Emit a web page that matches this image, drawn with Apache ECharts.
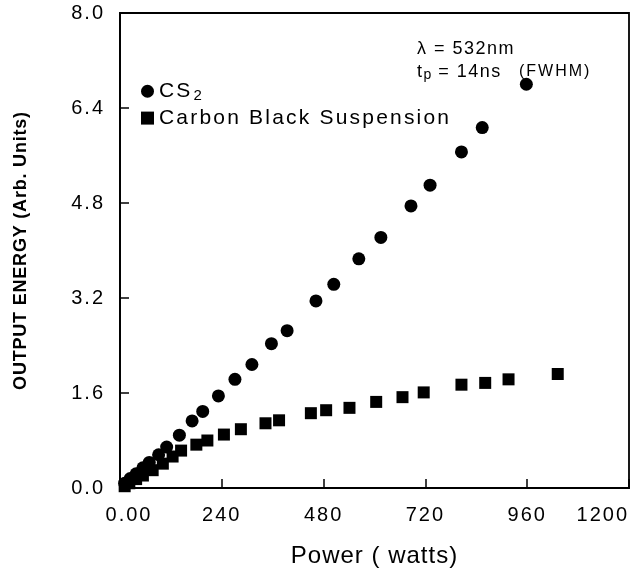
<!DOCTYPE html>
<html>
<head>
<meta charset="utf-8">
<script src="https://cdn.jsdelivr.net/npm/echarts@6/dist/echarts.min.js"></script>
<style>
  html, body { margin: 0; padding: 0; background: #fff; }
  #chart { width: 632px; height: 574px; }
</style>
</head>
<body>
<div id="chart"></div>
<script>
// ---- data ----
const cs2Power  = [958, 854, 805, 731, 686, 615, 563, 504, 462, 394, 357, 311, 271, 232, 195, 170, 140, 110, 91, 69, 54, 38, 24, 11];
const cs2Energy = [6.80, 6.07, 5.66, 5.10, 4.75, 4.22, 3.86, 3.43, 3.15, 2.65, 2.43, 2.08, 1.83, 1.55, 1.29, 1.13, 0.89, 0.69, 0.56, 0.43, 0.34, 0.24, 0.16, 0.08];

const cbPower  = [1032, 916, 861, 805, 716, 666, 604, 541, 486, 450, 375, 343, 285, 245, 206, 180, 144, 124, 101, 77, 54, 38, 22, 11];
const cbEnergy = [1.92, 1.83, 1.77, 1.74, 1.61, 1.53, 1.45, 1.35, 1.31, 1.26, 1.14, 1.09, 0.99, 0.90, 0.80, 0.73, 0.63, 0.53, 0.41, 0.30, 0.21, 0.15, 0.08, 0.03];

const xTickLabels = ['0.00', '240', '480', '720', '960', '1200'];
const yTickLabels = ['0.0', '1.6', '3.2', '4.8', '6.4', '8.0'];

const seriesNames = ['CS2', 'Carbon Black Suspension'];
const xAxisTitle = 'Power ( watts)';
const yAxisTitle = 'OUTPUT ENERGY (Arb. Units)';

// ---- letter spacing of the original typesetting (canvas letterSpacing) ----
(function () {
  const P = CanvasRenderingContext2D.prototype;
  if (!('letterSpacing' in P)) return;
  function spacing(font) {
    const m = /(\d+(?:\.\d+)?)px/.exec(font || '');
    const size = m ? parseFloat(m[1]) : 12;
    if (/bold/.test(font)) return '0.8px';
    if (size >= 23) return '1px';
    if (size >= 21) return '2.2px';
    if (size >= 19) return '2px';
    if (size >= 17) return '1.5px';
    if (size >= 16) return '2px';
    return '0.5px';
  }
  ['fillText', 'strokeText', 'measureText'].forEach(function (fn) {
    const orig = P[fn];
    P[fn] = function () {
      this.letterSpacing = spacing(this.font);
      return orig.apply(this, arguments);
    };
  });
})();

// ---- chart ----
const FONT = 'Liberation Sans';
const INK = '#000';
const chart = echarts.init(document.getElementById('chart'), null, { renderer: 'canvas' });

const zip = (xs, ys) => xs.map((x, i) => [x, ys[i]]);

chart.setOption({
  animation: false,
  backgroundColor: '#fff',
  grid: {
    left: 120, right: 3, top: 13, bottom: 76,
    show: true, borderColor: INK, borderWidth: 1.8, backgroundColor: 'transparent'
  },
  legend: {
    orient: 'vertical',
    left: 136, top: 74,
    itemWidth: 13, itemHeight: 13, itemGap: 3,
    data: [
      { name: seriesNames[0], icon: 'circle' },
      { name: seriesNames[1], icon: 'rect' }
    ],
    formatter: function (name) {
      return name === 'CS2' ? '{a|CS}{sub|2}' : '{a|' + name + '}';
    },
    textStyle: {
      color: INK,
      rich: {
        a: { fontFamily: FONT, fontSize: 21, lineHeight: 22, color: INK },
        sub: { fontFamily: FONT, fontSize: 15, lineHeight: 15, color: INK, padding: [9, 0, 0, 1] }
      }
    }
  },
  xAxis: {
    type: 'value', min: 0, max: 1200, interval: 240,
    name: xAxisTitle, nameLocation: 'middle', nameGap: 56,
    nameTextStyle: { fontFamily: FONT, fontSize: 24, color: INK },
    axisLine: { show: true, lineStyle: { color: INK, width: 1.8 } },
    axisTick: { show: true, inside: true, length: 9, lineStyle: { color: INK, width: 1.5 } },
    axisLabel: {
      margin: 16, fontFamily: FONT, fontSize: 20, color: INK,
      alignMaxLabel: 'right',
      formatter: function (v) {
        const i = Math.round(v / 240);
        return i === 0 ? '{first|' + xTickLabels[i] + '}' : xTickLabels[i];
      },
      rich: { first: { fontFamily: FONT, fontSize: 20, color: INK, padding: [0, 0, 0, 18] } }
    },
    splitLine: { show: false }
  },
  yAxis: {
    type: 'value', min: 0, max: 8, interval: 1.6,
    name: yAxisTitle, nameLocation: 'middle', nameGap: 90, nameRotate: 90,
    nameTextStyle: { fontFamily: FONT, fontSize: 18, fontWeight: 'bold', color: INK },
    axisLine: { show: true, lineStyle: { color: INK, width: 1.8 } },
    axisTick: { show: true, inside: true, length: 9, lineStyle: { color: INK, width: 1.5 } },
    axisLabel: {
      margin: 15, fontFamily: FONT, fontSize: 20, color: INK,
      formatter: function (v) { return yTickLabels[Math.round(v / 1.6)]; }
    },
    splitLine: { show: false }
  },
  graphic: [
    {
      type: 'text', x: 417, y: 49,
      style: {
        text: 'λ = 532nm', verticalAlign: 'middle',
        font: '18px "' + FONT + '"', fill: INK
      }
    },
    {
      type: 'text', x: 417, y: 72,
      style: {
        text: '{a|t}{sub|p}{a| = 14ns}', verticalAlign: 'middle',
        rich: {
          a: { fontFamily: FONT, fontSize: 18, lineHeight: 20, fill: INK },
          sub: { fontFamily: FONT, fontSize: 14, lineHeight: 14, fill: INK, padding: [6, 0, 0, 0] }
        }
      }
    },
    {
      type: 'text', x: 519, y: 72,
      style: {
        text: '(FWHM)', verticalAlign: 'middle',
        font: '16px "' + FONT + '"', fill: INK
      }
    }
  ],
  series: [
    {
      name: seriesNames[0], type: 'scatter', symbol: 'circle', symbolSize: 13,
      itemStyle: { color: INK, opacity: 1 },
      data: zip(cs2Power, cs2Energy)
    },
    {
      name: seriesNames[1], type: 'scatter', symbol: 'rect', symbolSize: 12,
      itemStyle: { color: INK, opacity: 1 },
      data: zip(cbPower, cbEnergy)
    }
  ]
});
</script>
</body>
</html>
